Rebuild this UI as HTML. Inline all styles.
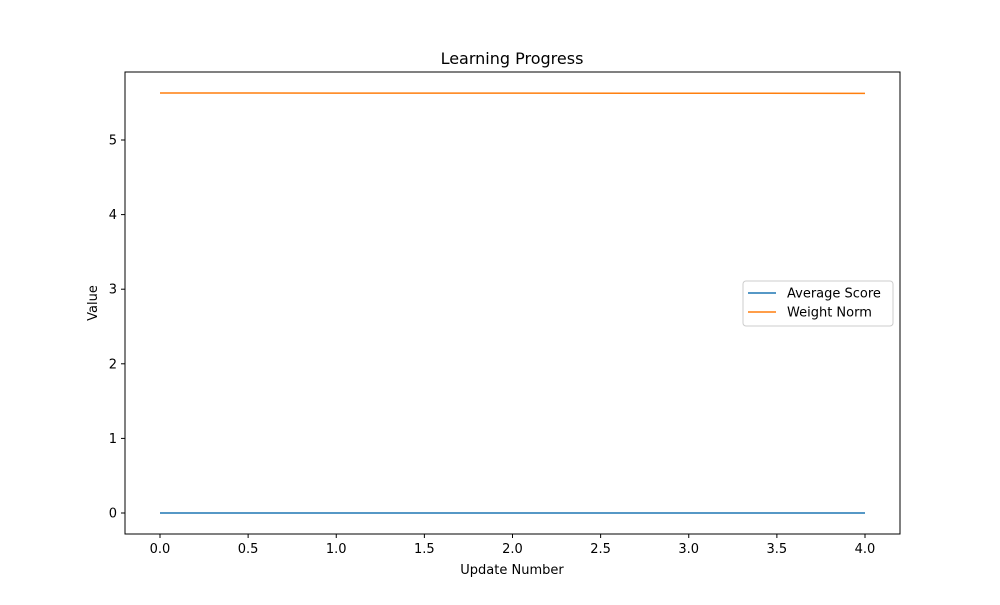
<!DOCTYPE html>
<html><head><meta charset="utf-8"><style>
body{margin:0;background:#fff;font-family:"Liberation Sans","DejaVu Sans",sans-serif;}
svg text{font-family:"DejaVu Sans","Liberation Sans",sans-serif;}
</style></head><body>
<svg id="chart" width="1000" height="600" xmlns="http://www.w3.org/2000/svg">
<rect width="1000" height="600" fill="#fff"/>
<text x="512" y="64" font-size="16" text-anchor="middle">Learning Progress</text>
<text x="512" y="574" font-size="13" text-anchor="middle">Update Number</text>
<text x="97" y="303" font-size="13" text-anchor="middle" transform="rotate(-90 97 303)">Value</text>
<g id="ticks"></g>
<g id="series"></g>
<rect x="125" y="72" width="775" height="462" fill="none" stroke="#000" stroke-width="1"/>
<g>
<rect x="743" y="281" width="150" height="45" fill="#fff" stroke="#ccc" rx="3"/>
<line x1="748" y1="293" x2="776" y2="293" stroke="#1f77b4" stroke-width="1.5"/>
<text x="787" y="297.5" font-size="13">Average Score</text>
<line x1="748" y1="312" x2="776" y2="312" stroke="#ff7f0e" stroke-width="1.5"/>
<text x="787" y="316.5" font-size="13">Weight Norm</text>
</g>
</svg>
<script>
const updates=[0,1,2,3,4];
const averageScore=[0,0,0,0,0];
const weightNorm=[5.63,5.629,5.628,5.627,5.625];
const xTicks=[0,0.5,1,1.5,2,2.5,3,3.5,4];
const yTicks=[0,1,2,3,4,5];
const NS="http://www.w3.org/2000/svg";
const xs=v=>160+v*176.25;
const ys=v=>513-v*74.6;
const tg=document.getElementById('ticks');
function mk(t,a,p){const e=document.createElementNS(NS,t);for(const k in a)e.setAttribute(k,a[k]);p.appendChild(e);return e;}
xTicks.forEach(v=>{
 const l=mk('line',{x1:xs(v),x2:xs(v),y1:534,y2:538,stroke:'#000'},tg);
 
 
 const t=mk('text',{x:xs(v),y:553,'font-size':13,'text-anchor':'middle'},tg);t.textContent=v.toFixed(1);
 
 
});
yTicks.forEach(v=>{
 const l=mk('line',{x1:121,x2:125,y1:ys(v),y2:ys(v),stroke:'#000'},tg);
 
 
 const t=mk('text',{x:117,y:ys(v)+4.5,'font-size':13,'text-anchor':'end'},tg);t.textContent=v;
 
 
});
const sg=document.getElementById('series');
function line(vals,color,name){
 const p=mk('polyline',{points:vals.map((v,i)=>xs(updates[i])+','+ys(v)).join(' '),fill:'none',stroke:color,'stroke-width':1.5},sg);
 
 
}
line(averageScore,'#1f77b4','average-score-line');
line(weightNorm,'#ff7f0e','weight-norm-line');
</script>
</body></html>
